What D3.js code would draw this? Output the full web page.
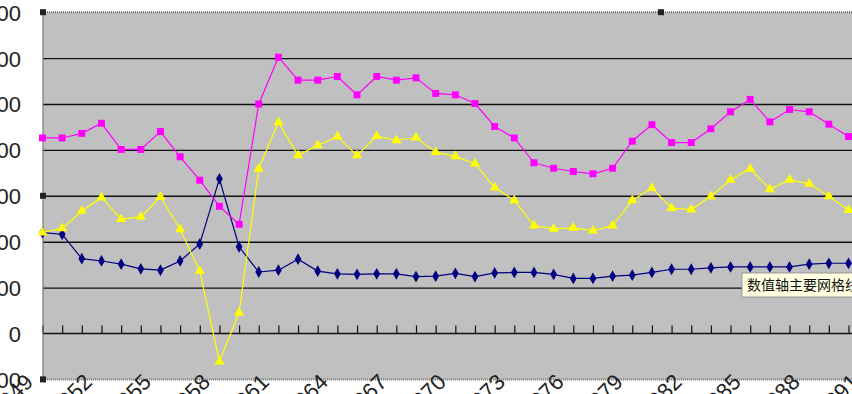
<!DOCTYPE html>
<html>
<head>
<meta charset="utf-8">
<script src="https://cdn.jsdelivr.net/npm/d3@7"></script>
<style>
  body { margin: 0; overflow: hidden; background: #fff; }
  svg { display: block; }
  .ylab text, .xlab { font-family: "Liberation Sans", Arial, sans-serif; font-size: 22px; fill: #222; }
  .tip { font-family: "Noto Sans CJK SC", sans-serif; font-size: 14px; fill: #111; }
</style>
</head>
<body>
<div id="chart"></div>
<script>
// years on the category axis
const years = d3.range(1949, 1991);
const labelYears = d3.range(1949, 1992, 3);
const yTicks = [-100, 0, 100, 200, 300, 400, 500, 600, 700];

// magenta squares
const birth = [426, 426, 436, 458, 401, 401, 440, 385, 334, 277, 238, 500, 602, 552, 552, 560, 520, 560, 552, 557, 523,
  520, 501, 451, 426, 372, 360, 353, 348, 360, 419, 455, 416, 416, 446, 483, 510, 461, 488, 483, 456, 429];
// navy diamonds
const death = [220, 216, 163, 158, 151, 141, 138, 158, 195, 337, 189, 134, 138, 162, 136, 130, 129, 130, 130, 124, 125,
  131, 124, 132, 133, 133, 129, 120, 120, 125, 127, 133, 140, 140, 143, 145, 145, 145, 145, 151, 153, 153];
// yellow triangles
const growth = [220, 229, 267, 296, 249, 254, 298, 227, 136, -61, 45, 359, 460, 388, 410, 429, 388, 430, 421, 427, 395,
  386, 370, 318, 290, 235, 228, 230, 224, 235, 290, 317, 273, 270, 299, 335, 359, 314, 335, 326, 299, 269];

const width = 852, height = 394;
const plot = {left: 43, top: 12.2, right: 1279, bottom: 379.4};

const svg = d3.select('#chart').append('svg')
    .attr('width', width)
    .attr('height', height);

const x = d3.scaleLinear().domain([1949, 1990]).range([42.5, 848.5]);
const y = d3.scaleLinear().domain([-100, 700]).range([plot.bottom, plot.top]);

// plot area
svg.append('rect')
    .attr('x', plot.left)
    .attr('y', plot.top)
    .attr('width', plot.right - plot.left)
    .attr('height', plot.bottom - plot.top)
    .attr('fill', '#c0c0c0');

// gridlines
const grid = svg.append('g')
    .attr('transform', `translate(${plot.left},0)`)
    .call(d3.axisLeft(y).tickValues([100, 200, 300, 400, 500, 600]).tickSize(-(plot.right - plot.left)).tickFormat(''));
grid.select('.domain').remove();
grid.selectAll('line').attr('stroke', '#111').attr('stroke-width', 1.4);

// zero axis with category ticks
const catTicks = d3.range(1949, 2012);
const zeroAxis = svg.append('g')
    .attr('transform', `translate(0,${y(0)})`)
    .call(d3.axisTop(x).tickValues(catTicks).tickSizeInner(8).tickSizeOuter(0).tickFormat(''));
zeroAxis.select('.domain').attr('d', `M${plot.left},0H${plot.right}`).attr('stroke', '#111').attr('stroke-width', 1.4);
zeroAxis.selectAll('line').attr('stroke', '#111').attr('stroke-width', 1.2);

// selection border (dotted)
svg.append('rect')
    .attr('x', plot.left)
    .attr('y', plot.top)
    .attr('width', plot.right - plot.left)
    .attr('height', plot.bottom - plot.top)
    .attr('fill', 'none')
    .attr('stroke', '#666')
    .attr('stroke-width', 2)
    .attr('stroke-dasharray', '1,1');

// y labels
const ylab = svg.append('g')
    .attr('class', 'ylab')
    .attr('transform', `translate(${plot.left},0)`)
    .call(d3.axisLeft(y).tickValues(yTicks).tickSize(0).tickPadding(22));
ylab.select('.domain').remove();
ylab.selectAll('text').attr('dy', '0.36em');

// rotated category labels
svg.append('g').selectAll('text')
    .data(labelYears)
  .join('text')
    .attr('class', 'xlab')
    .attr('text-anchor', 'end')
    .attr('transform', d => `translate(${x(d) - 8},${plot.bottom + 4}) rotate(-45)`)
    .text(d => d);

// series
const series = [
  {values: death, color: '#000080', shape: d3.symbolDiamond, size: 40},
  {values: birth, color: '#ff00ff', shape: d3.symbolSquare, size: 48},
  {values: growth, color: '#ffff00', shape: d3.symbolTriangle, size: 44}
];

const line = d3.line().x((d, i) => x(years[i])).y(d => y(d));

series.forEach(s => {
  svg.append('path')
      .attr('d', line(s.values))
      .attr('fill', 'none')
      .attr('stroke', s.color)
      .attr('stroke-width', 1.2);
  svg.append('g').selectAll('path')
      .data(s.values)
    .join('path')
      .attr('transform', (d, i) => `translate(${x(years[i])},${y(d)})`)
      .attr('d', d3.symbol().type(s.shape).size(s.size))
      .attr('fill', s.color);
});

// selection handles
const handles = [[plot.left, plot.top], [plot.left, (plot.top + plot.bottom) / 2], [plot.left, plot.bottom],
  [(plot.left + plot.right) / 2, plot.top]];
svg.append('g').selectAll('rect')
    .data(handles)
  .join('rect')
    .attr('x', d => d[0] - 3)
    .attr('y', d => d[1] - 3)
    .attr('width', 6)
    .attr('height', 6)
    .attr('fill', '#222');

// tooltip
const tip = svg.append('g').attr('transform', 'translate(742,273)');
tip.append('rect')
    .attr('width', 130)
    .attr('height', 24)
    .attr('fill', '#ffffe1')
    .attr('stroke', '#888')
    .attr('stroke-width', 0.8);
tip.append('text')
    .attr('class', 'tip')
    .attr('x', 5)
    .attr('y', 17)
    .text('数值轴主要网格线');
</script>
</body>
</html>
